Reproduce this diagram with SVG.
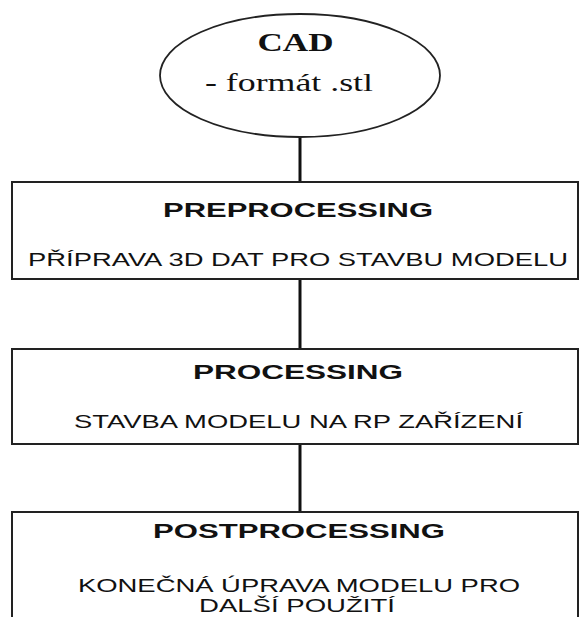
<svg xmlns="http://www.w3.org/2000/svg" width="580" height="617" viewBox="0 0 580 617">
<style>
.box{fill:#fff;stroke:#222;stroke-width:2}
.conn{stroke:#111;stroke-width:3;fill:none}
.tb{font-family:"Liberation Sans",Arial,sans-serif;font-weight:bold;font-size:21px;fill:#111;text-anchor:middle}
.tr{font-family:"Liberation Sans",Arial,sans-serif;font-size:18.5px;fill:#111;text-anchor:middle}
.tr2{font-family:"Liberation Sans",Arial,sans-serif;font-size:17.5px;fill:#111;text-anchor:middle}
.sb{font-family:"Liberation Serif","Times New Roman",serif;font-weight:bold;font-size:26px;fill:#111;text-anchor:middle}
.sr{font-family:"Liberation Serif","Times New Roman",serif;font-size:26px;fill:#111;text-anchor:middle}
</style>
<rect width="580" height="617" fill="#fff"/>
<g id="connectors">
<line class="conn" x1="300" y1="137" x2="300" y2="182"/>
<line class="conn" x1="300" y1="279" x2="300" y2="349"/>
<line class="conn" x1="300" y1="444" x2="300" y2="512"/>
</g>
<g id="cad">
<ellipse cx="300" cy="75.5" rx="140" ry="61.5" fill="#fff" stroke="#222" stroke-width="1.8"/>
<text class="sb" x="295.5" y="51" textLength="76" lengthAdjust="spacingAndGlyphs">CAD</text>
<text class="sr" x="289" y="91" textLength="168" lengthAdjust="spacingAndGlyphs">- formát .stl</text>
</g>
<g id="preprocessing">
<rect class="box" x="12" y="182" width="566" height="97"/>
<text class="tb" x="298" y="217" textLength="270" lengthAdjust="spacingAndGlyphs">PREPROCESSING</text>
<text class="tr" x="298" y="266" textLength="540" lengthAdjust="spacingAndGlyphs">PŘÍPRAVA 3D DAT PRO STAVBU MODELU</text>
</g>
<g id="processing">
<rect class="box" x="12" y="349" width="566" height="95"/>
<text class="tb" x="298" y="379" textLength="210" lengthAdjust="spacingAndGlyphs">PROCESSING</text>
<text class="tr" x="298.5" y="428" textLength="449" lengthAdjust="spacingAndGlyphs">STAVBA MODELU NA RP ZAŘÍZENÍ</text>
</g>
<g id="postprocessing">
<rect class="box" x="12" y="512" width="566" height="120"/>
<text class="tb" x="299" y="538" textLength="292" lengthAdjust="spacingAndGlyphs">POSTPROCESSING</text>
<text class="tr2" x="299" y="592" textLength="442" lengthAdjust="spacingAndGlyphs">KONEČNÁ ÚPRAVA MODELU PRO</text>
<text class="tr2" x="297" y="612" textLength="196" lengthAdjust="spacingAndGlyphs">DALŠÍ POUŽITÍ</text>
</g>
</svg>
